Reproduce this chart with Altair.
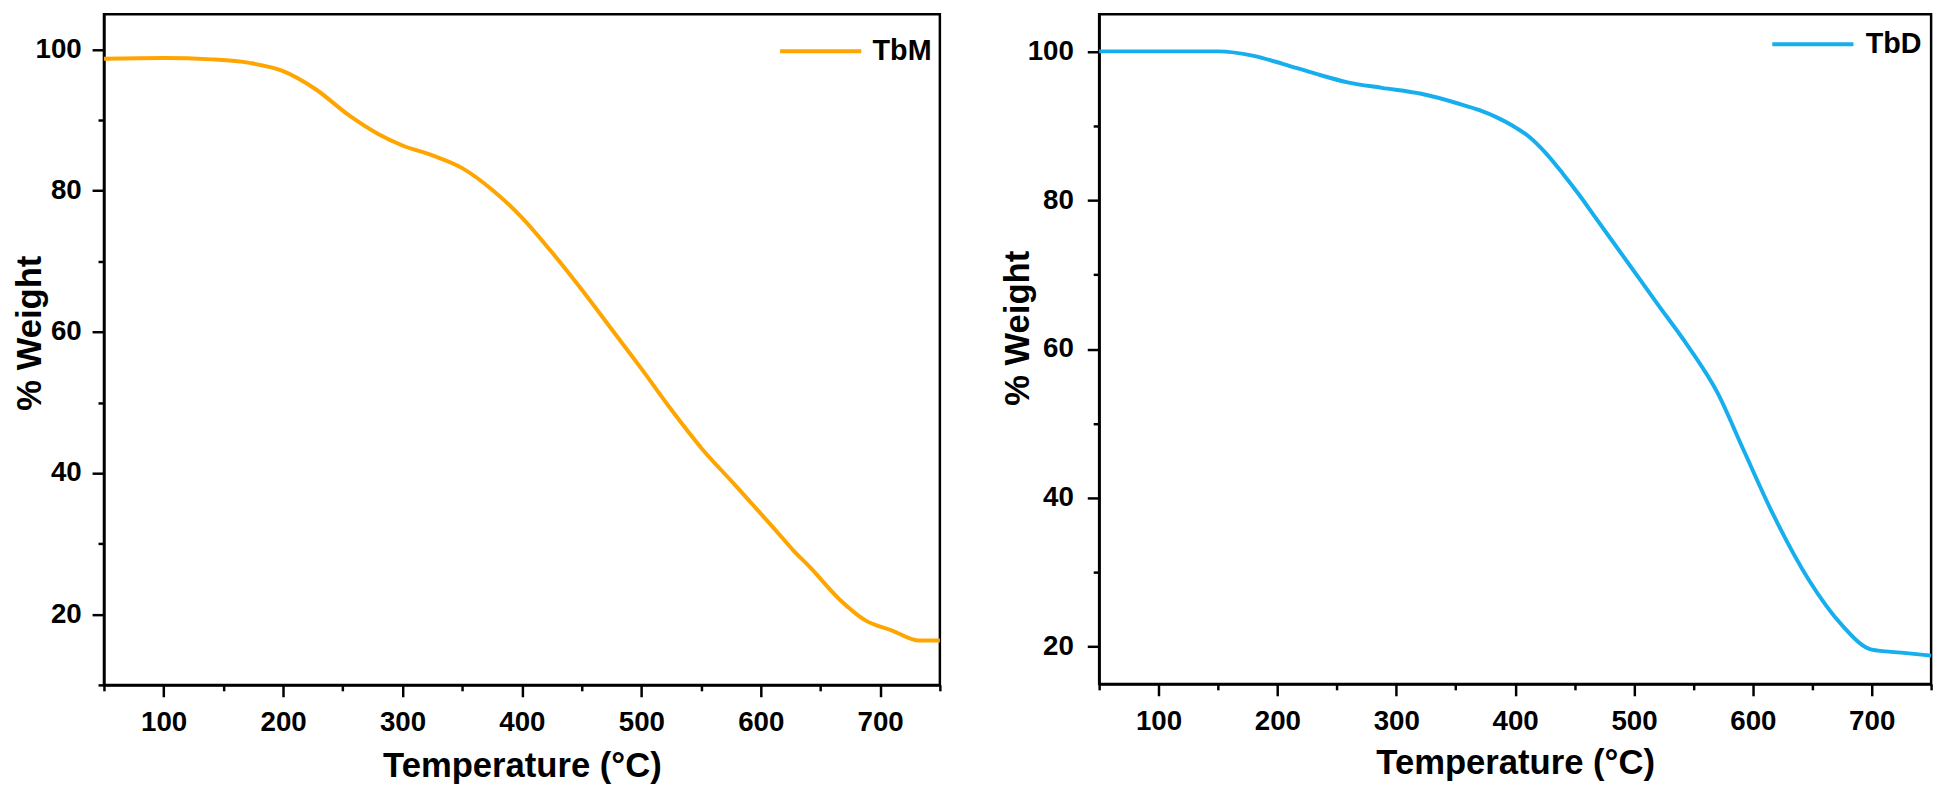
import altair as alt
import pandas as pd

# ---- data ----
tbm_temp = [50, 100, 140, 172, 199, 227, 255, 280, 300, 325, 350, 376, 400, 425, 450,
            475, 500, 525, 550, 578, 603, 612, 627, 641, 666, 688, 710, 732, 750]
tbm_weight = [98.7, 98.8, 98.6, 98.1, 97.0, 94.4, 90.7, 88.0, 86.4, 85.0, 83.2, 80.0, 76.2, 71.3, 66.0,
              60.4, 54.8, 49.0, 43.6, 38.4, 33.7, 32.0, 29.1, 26.7, 22.1, 19.1, 17.7, 16.3, 16.3]

tbd_temp = [50, 100, 150, 180, 205, 232, 260, 288, 321, 352, 370, 385, 398, 412, 426, 440, 454, 467, 494,
            520, 545, 570, 592, 617, 647, 675, 700, 725, 750]
tbd_weight = [100.0, 100.0, 100.0, 99.4, 98.3, 97.0, 95.8, 95.1, 94.3, 93.0, 92.1, 91.1, 90.0, 88.5, 86.3,
              83.6, 80.7, 77.8, 71.8, 66.0, 60.5, 54.2, 46.5, 37.8, 29.0, 22.9, 19.6, 19.2, 18.8]

x_major = [100, 200, 300, 400, 500, 600, 700]
x_minor = [50, 150, 250, 350, 450, 550, 650, 750]
y_major = [20, 40, 60, 80, 100]
left_y_minor = [10, 30, 50, 70, 90]
right_y_minor = [30, 50, 70, 90]

FONT = "Liberation Sans"


def panel(temps, weights, name, color, ydom, yminor, w, h,
          legend_x, legend_y, label_offset, ytitle_x, ytitle_y, xtitle_y, ylabel_pad):
    df = pd.DataFrame({"T": temps, "W": weights, "sample": [name] * len(temps)})
    base = alt.Chart(df)
    xs = alt.Scale(domain=[50, 750], nice=False, zero=False)
    ys = alt.Scale(domain=ydom, nice=False, zero=False)
    major = base.mark_line(strokeWidth=4, interpolate="monotone").encode(
        x=alt.X("T:Q", scale=xs,
                axis=alt.Axis(values=x_major, orient="bottom", title="Temperature (°C)",
                              tickSize=12, labelPadding=34, labelBaseline="alphabetic",
                              titleY=xtitle_y, titleBaseline="alphabetic", format="d")),
        y=alt.Y("W:Q", scale=ys,
                axis=alt.Axis(values=y_major, orient="left", title="% Weight",
                              tickSize=12, labelPadding=ylabel_pad,
                              titleX=ytitle_x, titleY=ytitle_y, titleBaseline="alphabetic",
                              format="d")),
        color=alt.Color("sample:N", scale=alt.Scale(domain=[name], range=[color]),
                        legend=alt.Legend(title=None, orient="none", legendX=legend_x,
                                          legendY=legend_y, symbolType="M-5,0L5,0",
                                          symbolSize=269, symbolStrokeWidth=4,
                                          labelOffset=label_offset, padding=0,
                                          labelFont=FONT, labelFontSize=29,
                                          labelFontWeight="bold", labelColor="black")),
    )
    minor = base.mark_line(opacity=0).encode(
        x=alt.X("T:Q", scale=xs,
                axis=alt.Axis(values=x_minor, orient="bottom", title=None, labels=False,
                              domain=False, tickSize=6)),
        y=alt.Y("W:Q", scale=ys,
                axis=alt.Axis(values=yminor, orient="left", title=None, labels=False,
                              domain=False, tickSize=6)),
    )
    return (alt.layer(major, minor)
            .resolve_axis(x="independent", y="independent")
            .properties(width=w, height=h))


left = panel(tbm_temp, tbm_weight, "TbM", "#FFA500", [10, 105], left_y_minor, 845, 678,
             legend_x=710, legend_y=23, label_offset=38, ytitle_x=-64, ytitle_y=322,
             xtitle_y=93, ylabel_pad=11)
right = panel(tbd_temp, tbd_weight, "TbD", "#17AEEE", [15, 105], right_y_minor, 841, 677,
              legend_x=707, legend_y=16, label_offset=39, ytitle_x=-71, ytitle_y=317,
              xtitle_y=91, ylabel_pad=14)

chart = (alt.hconcat(left, right, spacing=50)
         .resolve_scale(color="independent")
         .properties(padding={"left": 3, "top": 0, "right": 0, "bottom": 0},
                     background="white")
         .configure_view(stroke="black", strokeWidth=2.5)
         .configure_axis(grid=False, labelFont=FONT, labelFontSize=28, labelFontWeight="bold",
                         labelColor="black", titleFont=FONT, titleFontSize=35,
                         titleFontWeight="bold", titleColor="black", tickColor="black",
                         tickWidth=2.5, domainColor="black", domainWidth=2.5,
                         labelOverlap=False, labelFlush=False))

chart.save("out.html", embed_options={"renderer": "svg", "actions": False})
